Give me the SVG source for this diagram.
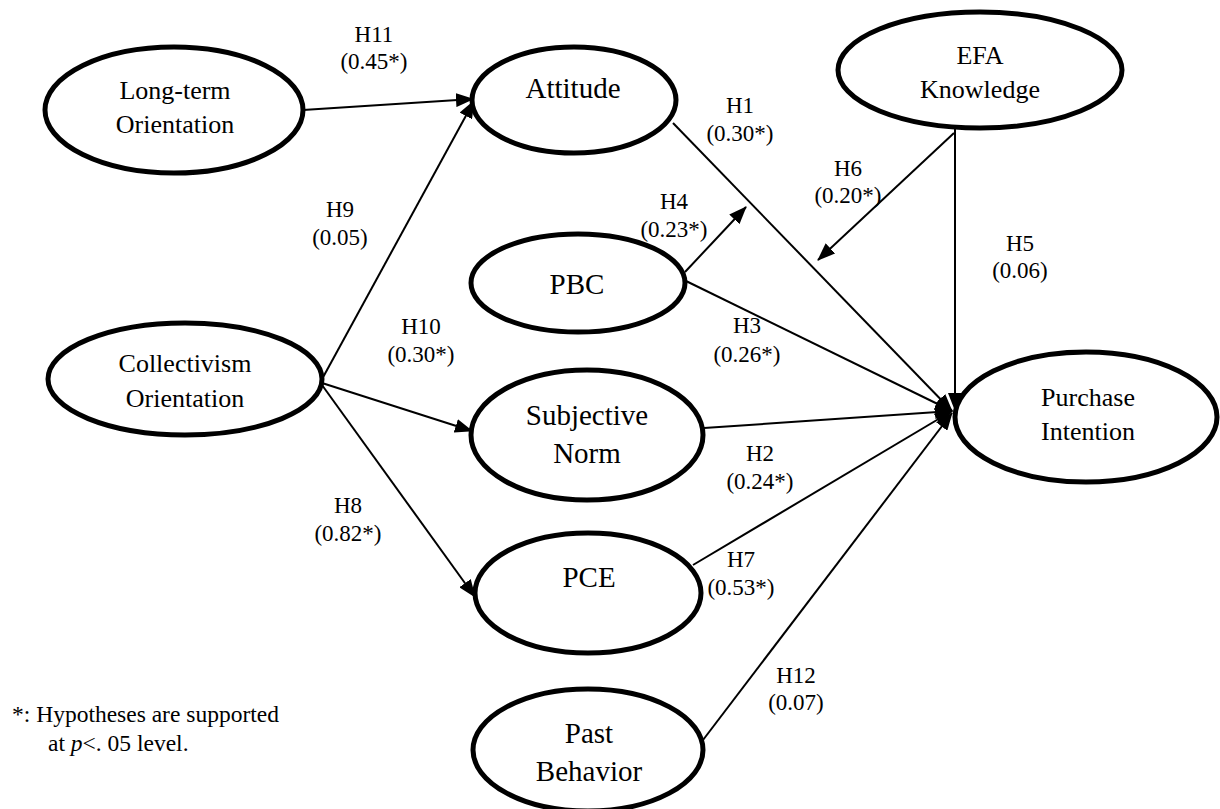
<svg xmlns="http://www.w3.org/2000/svg" width="1220" height="809" viewBox="0 0 1220 809">
<style>
.node ellipse{fill:#fff;stroke:#000;stroke-width:5}
text{font-family:Liberation Serif, Times New Roman, serif;fill:#000}
.t{text-anchor:middle}
.n29{font-size:29px}
.n26{font-size:26px}
.lab{font-size:23px}
.edge line{stroke:#000;stroke-width:2;marker-end:url(#ah)}
.note{font-size:23.5px}
</style>
<defs>
<marker id="ah" markerUnits="userSpaceOnUse" viewBox="0 0 18 14" refX="17" refY="7" markerWidth="18" markerHeight="14" orient="auto">
<path d="M0,0 L18,7 L0,14 z" fill="#000"/>
</marker>
</defs>
<rect width="1220" height="809" fill="#fff"/>
<g id="connectors" class="edge">
<line x1="303" y1="110" x2="473" y2="99"/>
<line x1="321" y1="381" x2="474" y2="101"/>
<line x1="322" y1="383" x2="472" y2="431"/>
<line x1="322" y1="385" x2="475" y2="597"/>
<line x1="673" y1="123" x2="952" y2="411"/>
<line x1="685" y1="272" x2="746" y2="207"/>
<line x1="686" y1="281" x2="952" y2="411"/>
<line x1="954" y1="133" x2="818" y2="260"/>
<line x1="955" y1="128" x2="955" y2="410"/>
<line x1="704" y1="428" x2="952" y2="411"/>
<line x1="693" y1="565" x2="952" y2="411"/>
<line x1="703" y1="740" x2="952" y2="413"/>
</g>
<g id="node-longterm" class="node"><ellipse cx="174" cy="110" rx="129" ry="63"/>
<text class="t n26" x="175" y="99">Long-term</text><text class="t n26" x="175" y="133">Orientation</text></g>
<g id="node-attitude" class="node"><ellipse cx="574" cy="100" rx="102" ry="53"/>
<text class="t n29" x="573" y="98">Attitude</text></g>
<g id="node-efa" class="node"><ellipse cx="980" cy="70" rx="142" ry="58"/>
<text class="t n26" x="980" y="64">EFA</text><text class="t n26" x="980" y="98">Knowledge</text></g>
<g id="node-pbc" class="node"><ellipse cx="578" cy="283" rx="107" ry="49"/>
<text class="t n29" x="577" y="294">PBC</text></g>
<g id="node-collectivism" class="node"><ellipse cx="185" cy="379" rx="137" ry="56"/>
<text class="t n26" x="185" y="372">Collectivism</text><text class="t n26" x="185" y="407">Orientation</text></g>
<g id="node-purchase" class="node"><ellipse cx="1086" cy="417" rx="131" ry="65"/>
<text class="t n26" x="1088" y="406">Purchase</text><text class="t n26" x="1088" y="440">Intention</text></g>
<g id="node-subjective" class="node"><ellipse cx="587" cy="435" rx="116" ry="65"/>
<text class="t n29" x="587" y="425">Subjective</text><text class="t n29" x="587" y="463">Norm</text></g>
<g id="node-pce" class="node"><ellipse cx="588" cy="593" rx="113" ry="60"/>
<text class="t n29" x="589" y="587">PCE</text></g>
<g id="node-past" class="node"><ellipse cx="588" cy="750" rx="115" ry="61"/>
<text class="t n29" x="589" y="743">Past</text><text class="t n29" x="589" y="781">Behavior</text></g>
<g id="labels">
<text class="t lab" x="374" y="42">H11</text><text class="t lab" x="374" y="69">(0.45*)</text>
<text class="t lab" x="740" y="113">H1</text><text class="t lab" x="740" y="141">(0.30*)</text>
<text class="t lab" x="674" y="209">H4</text><text class="t lab" x="674" y="237">(0.23*)</text>
<text class="t lab" x="848" y="176">H6</text><text class="t lab" x="848" y="203">(0.20*)</text>
<text class="t lab" x="1020" y="251">H5</text><text class="t lab" x="1020" y="278">(0.06)</text>
<text class="t lab" x="340" y="217">H9</text><text class="t lab" x="340" y="245">(0.05)</text>
<text class="t lab" x="421" y="334">H10</text><text class="t lab" x="421" y="362">(0.30*)</text>
<text class="t lab" x="747" y="333">H3</text><text class="t lab" x="747" y="362">(0.26*)</text>
<text class="t lab" x="760" y="461">H2</text><text class="t lab" x="760" y="489">(0.24*)</text>
<text class="t lab" x="348" y="513">H8</text><text class="t lab" x="348" y="541">(0.82*)</text>
<text class="t lab" x="741" y="567">H7</text><text class="t lab" x="741" y="595">(0.53*)</text>
<text class="t lab" x="796" y="683">H12</text><text class="t lab" x="796" y="710">(0.07)</text>
</g>
<g id="footnote">
<text class="note" x="12" y="722">*: Hypotheses are supported</text>
<text class="note" x="48" y="751">at <tspan font-style="italic">p</tspan>&lt;. 05 level.</text>
</g>
</svg>
